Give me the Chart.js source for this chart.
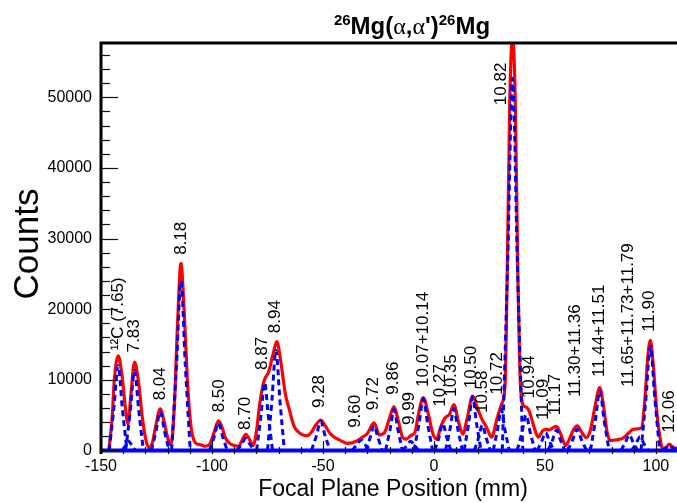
<!DOCTYPE html>
<html lang="en">
<head>
  <meta charset="UTF-8">
  <meta name="viewport" content="width=device-width, initial-scale=1.0">
  <title>26Mg(a,a')26Mg spectrum</title>
  <style>
    html, body { margin: 0; padding: 0; background: #fff; }
    canvas { display: block; }
  </style>
</head>
<body>
  <canvas id="spectrum" width="677" height="503"></canvas>

  <script src="https://cdn.jsdelivr.net/npm/chart.js"></script>
  <script>
    // total fit (red) : focal plane position (mm) / counts
    const fitX = [
      -146.5, -145, -144, -142.2, -140.5, -139, -137.8, -136.5, -134.9, -133, -131.5, -130, -128.5,
      -127, -125.5, -123.3, -121.5, -120, -118.5, -117, -115.5, -114, -112.5, -111, -109.5, -107.5,
      -105, -103, -101, -99, -97.1, -95.5, -94, -92, -90, -88, -86.5, -84.8, -83, -81.5, -80, -78.5,
      -76.5, -74.5, -72.5, -70.8, -69, -67, -65, -63, -61, -59, -57, -55, -53, -51, -49, -47, -45,
      -42, -39, -35, -32.6, -30, -27, -24.5, -22, -20, -18, -16, -14, -12.5, -10.5, -8.5, -7, -4.8,
      -2.5, -0.5, 1.2, 3, 5, 7, 9, 11, 13, 15, 17.4, 19.5, 21.5, 23.5, 26, 28.5, 30.5, 32, 33, 34.2,
      35.4, 36.6, 37.8, 39, 40.5, 41.7, 43, 45, 47, 49, 50.5, 52, 53.5, 55.2, 57, 59.4, 61, 62.8,
      64.5, 66.5, 68.7, 70.5, 72.5, 74.7, 76.5, 78, 79.5, 82, 85, 87.5, 89.7, 93.5, 95, 96.3, 97.5,
      98.8, 100.5, 101.8, 103, 104.5, 106, 107.5, 109.5
    ];
    const fitY = [
      0, 4500, 10000, 13400, 10500, 6000, 3800, 8000, 12500, 9500, 5000, 1800, 400,
      900, 3200, 5900, 4000, 1800, 800, 6000, 18000, 26500, 19500, 9500, 3500, 1100,
      800, 600, 900, 2600, 4200, 3300, 1800, 1000, 700, 600, 1400, 2300, 1500, 700, 2600, 6600,
      9900, 11100, 13600, 15400, 12600, 8100, 5600, 3400, 2600, 2200, 2100, 2700, 3700, 4300, 3500, 2500, 1900,
      1400, 1000, 1300, 1800, 2400, 3900, 2200, 2700, 4600, 6200, 4100, 1800, 1600, 2100, 2600, 5100, 7500,
      5100, 2400, 1600, 3300, 4600, 5100, 6500, 4100, 2300, 4600, 7700, 6100, 4500, 3400, 1900, 4600, 6600, 9100, 25000, 50000,
      58500, 50000, 25000, 9100, 6300, 6100, 5500, 3400, 1900, 2800, 3000, 2900, 3200, 3400, 2400, 700, 1600, 2900,
      3500, 2600, 1800, 2900, 6100, 8900, 6100, 2600, 1400, 1500, 1700, 2400, 3000, 3200, 7100, 13100, 15600,
      12100, 5100, 1900, 300, 400, 900, 500, 300
    ];

    // individual peak components (blue dashed), [mm, counts]
    const peakCurves = [
      [[-146.3, 0], [-144.2, 6000], [-142.3, 12000], [-140.4, 6000], [-138.3, 0]],
      [[-140.5, 0], [-139, 650], [-137.5, 1300], [-136, 650], [-134.5, 0]],
      [[-138.9, 0], [-136.8, 5650], [-134.9, 11300], [-133, 5650], [-130.9, 0]],
      [[-127.3, 0], [-125.2, 2750], [-123.3, 5500], [-121.4, 2750], [-119.3, 0]],
      [[-118.2, 0], [-116, 12000], [-114, 24000], [-112, 12000], [-109.8, 0]],
      [[-101.1, 0], [-99, 1950], [-97.1, 3900], [-95.2, 1950], [-93.1, 0]],
      [[-88.8, 0], [-86.7, 850], [-84.8, 1700], [-82.9, 850], [-80.8, 0]],
      [[-79.9, 0], [-78, 4800], [-76.3, 9600], [-74.6, 4800], [-72.7, 0]],
      [[-75, 0], [-73, 7100], [-71.2, 14200], [-69.4, 7100], [-67.4, 0]],
      [[-55.2, 0], [-53, 2050], [-51, 4100], [-49, 2050], [-46.8, 0]],
      [[-37, 0], [-34.8, 750], [-32.8, 1500], [-30.8, 750], [-28.6, 0]],
      [[-30.8, 0], [-28.8, 1750], [-27, 3500], [-25.2, 1750], [-23.2, 0]],
      [[-21.8, 0], [-19.8, 2900], [-18, 5800], [-16.2, 2900], [-14.2, 0]],
      [[-14.3, 0], [-12.3, 650], [-10.5, 1300], [-8.7, 650], [-6.7, 0]],
      [[-9, 0], [-6.8, 3650], [-4.8, 7300], [-2.8, 3650], [-0.6, 0]],
      [[0.4, 0], [2.3, 1900], [4, 3800], [5.7, 1900], [7.6, 0]],
      [[5.2, 0], [7.2, 2950], [9, 5900], [10.8, 2950], [12.8, 0]],
      [[13.6, 0], [15.6, 3800], [17.4, 7600], [19.2, 3800], [21.2, 0]],
      [[18.2, 0], [20.1, 1800], [21.8, 3600], [23.5, 1800], [25.4, 0]],
      [[26.7, 0], [28.6, 2900], [30.3, 5800], [32, 2900], [33.9, 0]],
      [[30.8, 0], [33.2, 26350], [35.4, 52700], [37.6, 26350], [40, 0]],
      [[37.5, 0], [39.6, 2500], [41.5, 5000], [43.4, 2500], [45.5, 0]],
      [[46.5, 0], [48.5, 1250], [50.3, 2500], [52.1, 1250], [54.1, 0]],
      [[51.4, 0], [53.4, 1450], [55.2, 2900], [57, 1450], [59, 0]],
      [[60.3, 0], [62.5, 1500], [64.5, 3000], [66.5, 1500], [68.7, 0]],
      [[70.5, 0], [72.7, 4200], [74.7, 8400], [76.7, 4200], [78.9, 0]],
      [[84.2, 0], [86.2, 1100], [88, 2200], [89.8, 1100], [91.8, 0]],
      [[89, 0], [91, 950], [92.8, 1900], [94.6, 950], [96.6, 0]],
      [[93.3, 0], [95.5, 7400], [97.5, 14800], [99.5, 7400], [101.7, 0]],
      [[103, 0], [104.5, 350], [106, 700], [107.5, 350], [109, 0]]
    ];

    // excitation energies (MeV) written above the peaks
    const stateNames = [
      '\u00b9\u00b2C (7.65)', '7.83', '8.04', '8.18', '8.50', '8.70', '8.87', '8.94', '9.28', '9.60',
      '9.72', '9.86', '9.99', '10.07+10.14', '10.27', '10.35', '10.50', '10.58', '10.72', '10.82',
      '10.94', '11.09', '11.17', '11.30+11.36', '11.44+11.51', '11.65+11.73+11.79', '11.90', '12.06'
    ];
    const stateX = [
      -142.2, -135, -123.3, -113.9, -96.8, -85, -77.5, -71.6, -51.6, -35.6,
      -27.5, -18.5, -11.3, -5, 2.7, 8, 17, 21.9, 28.4, 30.5,
      42.9, 49.2, 54.5, 63.9, 74.4, 87.4, 97.2, 106.2
    ];
    const stateY = [
      14200, 13900, 7100, 27700, 5400, 2900, 11400, 16600, 6000, 3200,
      5700, 7900, 3600, 9000, 6200, 7600, 8800, 5300, 7900, 48900,
      7400, 4300, 5000, 7600, 10400, 9000, 16800, 2500
    ];

    const xTicks = [-150, -100, -50, 0, 50, 100];
    const yTicks = [0, 10000, 20000, 30000, 40000, 50000];

    const FONT = '"Liberation Sans", Arial, sans-serif';

    // ROOT style frame: thick top/left border, ticks pointing inside
    const frame = {
      id: 'frame',
      afterDatasetsDraw(chart) {
        const { ctx, chartArea: a, scales: { x, y } } = chart;
        ctx.save();
        ctx.strokeStyle = '#111';
        ctx.lineWidth = 1.2;
        for (let v = 0; v <= y.max; v += 2000) {
          const py = Math.round(y.getPixelForValue(v)) + 0.5;
          const len = v % 10000 === 0 ? 17 : 9;
          ctx.beginPath();
          ctx.moveTo(a.left, py);
          ctx.lineTo(a.left + len, py);
          ctx.stroke();
        }
        for (let v = -150; v <= x.max; v += 10) {
          const px = Math.round(x.getPixelForValue(v)) + 0.5;
          const len = v % 50 === 0 ? 13 : 7;
          ctx.beginPath();
          ctx.moveTo(px, a.bottom);
          ctx.lineTo(px, a.bottom - len);
          ctx.stroke();
        }
        ctx.strokeStyle = '#000';
        ctx.lineWidth = 3;
        ctx.beginPath();
        ctx.moveTo(a.left, a.bottom);
        ctx.lineTo(a.left, a.top);
        ctx.lineTo(a.right, a.top);
        ctx.stroke();
        ctx.restore();
      }
    };

    const stateLabels = {
      id: 'stateLabels',
      afterDatasetsDraw(chart) {
        const { ctx, scales: { x, y } } = chart;
        ctx.save();
        ctx.font = '17px ' + FONT;
        ctx.fillStyle = '#000';
        ctx.textAlign = 'left';
        ctx.textBaseline = 'middle';
        stateNames.forEach((name, i) => {
          ctx.save();
          ctx.translate(x.getPixelForValue(stateX[i]), y.getPixelForValue(stateY[i]));
          ctx.rotate(-Math.PI / 2);
          ctx.fillText(name, 0, 0);
          ctx.restore();
        });
        ctx.restore();
      }
    };

    const titles = {
      id: 'titles',
      afterDraw(chart) {
        const { ctx } = chart;
        ctx.save();
        ctx.fillStyle = '#000';

        // reaction title with mass-number superscripts
        const big = 'bold 24px ' + FONT;
        const sup = 'bold 15px ' + FONT;
        const greek = '24px "Liberation Serif", "DejaVu Serif", serif';
        const parts = [
          ['26', sup, -9], ['Mg(', big, 0], ['\u03b1', greek, 0], [',', big, 0],
          ['\u03b1', greek, 0], ["')", big, 0], ['26', sup, -9], ['Mg', big, 0]
        ];
        let total = 0;
        parts.forEach(p => { ctx.font = p[1]; total += ctx.measureText(p[0]).width; });
        let cx = 412 - total / 2;
        ctx.textBaseline = 'alphabetic';
        ctx.textAlign = 'left';
        parts.forEach(p => {
          ctx.font = p[1];
          ctx.fillText(p[0], cx, 34 + p[2]);
          cx += ctx.measureText(p[0]).width;
        });

        ctx.textAlign = 'center';
        ctx.textBaseline = 'middle';
        ctx.font = '23px ' + FONT;
        ctx.fillText('Focal Plane Position (mm)', 393, 490);

        ctx.save();
        ctx.translate(28, 244);
        ctx.rotate(-Math.PI / 2);
        ctx.font = '35px ' + FONT;
        ctx.fillText('Counts', 0, 0);
        ctx.restore();

        ctx.restore();
      }
    };

    const datasets = [{
      label: 'fit',
      data: fitX.map((v, i) => ({ x: v, y: fitY[i] })),
      borderColor: '#ff0000',
      borderWidth: 3.2,
      pointRadius: 0,
      cubicInterpolationMode: 'monotone',
      order: 3
    }];

    peakCurves.forEach((pts, i) => {
      datasets.push({
        label: 'peak ' + i,
        data: pts.map(p => ({ x: p[0], y: p[1] })),
        borderColor: '#0000ff',
        borderWidth: 3,
        borderDash: [6, 4],
        pointRadius: 0,
        cubicInterpolationMode: 'monotone',
        order: 2
      });
    });

    datasets.push({
      label: 'baseline',
      data: [{ x: -150, y: 0 }, { x: 109.5, y: 0 }],
      borderColor: '#0000ff',
      borderWidth: 4,
      pointRadius: 0,
      order: 1
    });

    new Chart(document.getElementById('spectrum'), {
      type: 'line',
      data: { datasets },
      options: {
        responsive: false,
        animation: false,
        layout: { padding: { top: 43, right: 0, left: 0, bottom: 0 } },
        plugins: {
          legend: { display: false },
          tooltip: { enabled: false }
        },
        scales: {
          x: {
            type: 'linear',
            min: -150,
            max: 109.5,
            grid: { display: false, drawTicks: false },
            border: { display: false },
            afterBuildTicks: s => { s.ticks = xTicks.map(v => ({ value: v })); },
            afterFit: s => { s.height = 49; },
            ticks: {
              padding: 3,
              maxRotation: 0,
              color: '#000',
              font: { family: FONT, size: 16 },
              callback: v => String(v)
            }
          },
          y: {
            min: -500,
            max: 57700,
            grid: { display: false, drawTicks: false },
            border: { display: false },
            afterBuildTicks: s => { s.ticks = yTicks.map(v => ({ value: v })); },
            afterFit: s => { s.width = 101; },
            ticks: {
              padding: 9,
              color: '#000',
              font: { family: FONT, size: 16 },
              callback: v => String(v)
            }
          }
        }
      },
      plugins: [frame, stateLabels, titles]
    });
  </script>
</body>
</html>
